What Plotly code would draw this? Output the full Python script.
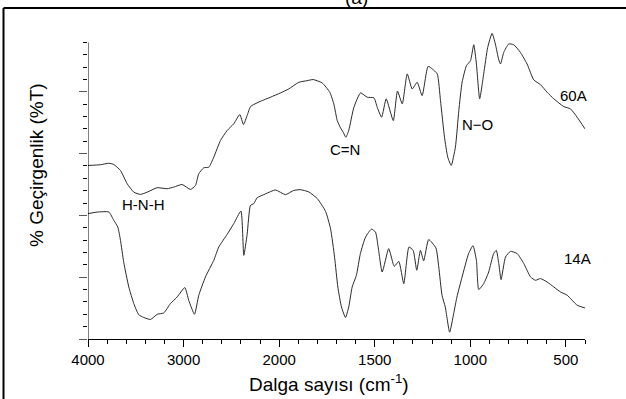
import plotly.graph_objects as go

# ---- data (wavenumber cm-1, transmittance arbitrary units) ----
wn_60A = [4000, 3869, 3782, 3730, 3660, 3590, 3521, 3451, 3381, 3276, 3172, 3103, 3015, 2928, 2876,
          2841, 2789, 2736, 2684, 2614, 2544, 2475, 2412, 2373, 2335, 2300, 2266, 2196, 2091, 1993,
          1950, 1897, 1854, 1822, 1775, 1735, 1714, 1696, 1679, 1665, 1651, 1636, 1609, 1574, 1539,
          1504, 1487, 1464, 1440, 1403, 1381, 1356, 1330, 1304, 1278, 1252, 1221, 1199, 1173, 1156,
          1135, 1118, 1100, 1078, 1060, 1043, 1020, 999, 982, 968, 951, 930, 909, 886, 869,
          851, 842, 825, 799, 773, 738, 703, 668, 633, 598, 563, 511, 476, 441, 400]
t_60A = [14.04, 14.10, 14.22, 14.12, 13.63, 12.56, 11.88, 11.70, 11.88, 12.24, 12.16, 12.29, 12.50, 12.10, 12.42,
         13.37, 13.85, 13.90, 14.71, 16.06, 16.87, 17.41, 18.16, 17.35, 18.08, 18.80, 18.97, 19.23, 19.56, 19.91,
         20.23, 20.77, 20.90, 20.99, 20.72, 19.96, 19.02, 17.67, 17.08, 16.73, 16.32, 16.87, 18.75, 19.91, 19.56,
         19.51, 18.75, 17.94, 19.43, 17.67, 20.06, 19.02, 21.45, 20.23, 20.77, 19.69, 22.06, 21.85, 21.45, 19.29,
         16.32, 14.71, 14.04, 15.52, 18.49, 20.77, 22.12, 22.52, 23.81, 22.25, 19.43, 21.45, 23.59, 24.73, 23.87,
         22.58, 22.25, 23.19, 23.87, 23.81, 23.19, 22.25, 20.96, 20.58, 19.96, 19.43, 18.80, 18.62, 17.94, 17.00]

wn_14A = [4000, 3904, 3782, 3730, 3688, 3660, 3626, 3573, 3521, 3469, 3416, 3346, 3276, 3207, 3137,
          3067, 2987, 2946, 2886, 2841, 2771, 2684, 2632, 2544, 2475, 2400, 2370, 2335, 2300, 2266,
          2230, 2143, 2039, 1967, 1924, 1889, 1845, 1800, 1757, 1731, 1710, 1693, 1674, 1653, 1636,
          1618, 1596, 1575, 1548, 1517, 1496, 1482, 1461, 1427, 1403, 1397, 1374, 1348, 1321, 1299,
          1280, 1261, 1244, 1218, 1180, 1165, 1148, 1131, 1108, 1087, 1070, 1043, 1009, 986, 968,
          956, 930, 904, 878, 864, 851, 839, 816, 790, 755, 720, 685, 659, 633, 598,
          563, 528, 493, 441, 400]
t_14A = [10.14, 10.27, 10.27, 9.60, 9.05, 7.98, 6.20, 4.21, 2.87, 1.96, 1.74, 1.58, 2.00, 2.11, 2.87,
         3.40, 4.16, 3.13, 2.00, 3.54, 5.02, 6.37, 7.44, 8.47, 9.33, 10.35, 6.77, 8.47, 10.81, 10.95,
         11.43, 11.74, 12.06, 11.68, 12.02, 12.08, 11.90, 11.35, 10.32, 8.91, 6.61, 4.21, 2.59, 1.74, 2.59,
         4.21, 5.15, 6.91, 8.25, 8.89, 8.65, 7.44, 5.42, 7.31, 6.04, 5.88, 6.28, 4.48, 7.44, 7.17,
         5.56, 7.17, 6.32, 8.04, 7.37, 5.82, 3.54, 2.59, 0.55, 2.06, 3.40, 5.02, 6.91, 7.55, 6.37,
         4.00, 4.48, 5.42, 6.91, 7.17, 6.10, 4.81, 6.63, 7.09, 6.91, 6.10, 5.02, 4.75, 4.89, 4.61,
         4.21, 3.80, 3.54, 2.73, 2.51]

tick_values_wn = [4000, 3000, 2000, 1500, 1000, 500]
tick_labels = ["4000", "3000", "2000", "1500", "1000", "500"]


# FTIR axis with a scale change at 2000 cm-1
def to_axis(w):
    if w >= 2000:
        return (4000 - w) / 1000.0
    return 2.0 + (2000 - w) / 500.0


FONT = "Liberation Sans, Arial, sans-serif"
LINE = "#2a2a2a"

fig = go.Figure()
fig.add_trace(go.Scatter(x=[to_axis(w) for w in wn_60A], y=t_60A, mode="lines",
                         line=dict(color=LINE, width=1, shape="spline", smoothing=0.5),
                         name="60A", showlegend=False))
fig.add_trace(go.Scatter(x=[to_axis(w) for w in wn_14A], y=t_14A, mode="lines",
                         line=dict(color=LINE, width=1, shape="spline", smoothing=0.5),
                         name="14A", showlegend=False))

L, R, T, B = 88, 41, 30, 60
W, H = 626, 399
PW, PH = W - L - R, H - T - B


def px(x):
    return (x - L) / PW


def py(y):
    return (H - B - y) / PH


fig.update_layout(
    width=W, height=H,
    margin=dict(l=L, r=R, t=T, b=B, pad=0),
    paper_bgcolor="white", plot_bgcolor="white",
    font=dict(family=FONT, color="black", size=15),
    showlegend=False,
)

fig.update_xaxes(
    range=[0, 5.2], showgrid=False, zeroline=False,
    showline=True, linecolor="black", linewidth=1,
    tickmode="array", tickvals=[to_axis(w) for w in tick_values_wn], ticktext=tick_labels,
    ticks="outside", ticklen=7, tickcolor="black", tickwidth=1,
    tickfont=dict(size=15, family=FONT),
    minor=dict(ticks="outside", ticklen=4, tickcolor="black", tickwidth=1, dtick=0.2, tick0=0),
)
fig.update_yaxes(
    range=[0, 25], showgrid=False, zeroline=False, showline=False,
    tickmode="array", tickvals=[0, 5, 10, 15, 20], showticklabels=False,
    ticks="outside", ticklen=8, tickcolor="#555", tickwidth=1,
    minor=dict(ticks="outside", ticklen=4, tickcolor="black", tickwidth=1,
               tickmode="array", tickvals=list(range(0, 25))),
)

shapes = [
    dict(type="line", xref="x", yref="y", x0=0, x1=0, y0=0, y1=24,
         line=dict(color="black", width=1)),
    dict(type="line", xref="paper", yref="paper", x0=px(3.5), x1=px(3.5), y0=py(8), y1=py(420),
         line=dict(color="black", width=2)),
    dict(type="line", xref="paper", yref="paper", x0=px(3.5), x1=px(640), y0=py(8), y1=py(8),
         line=dict(color="black", width=2)),
]
fig.update_layout(shapes=shapes)

ann = [
    ("H-N-H", 143.7, 204.2, 15, 0),
    ("C=N", 344.7, 149.2, 15, 0),
    ("N\u2212O", 477.7, 124.2, 15, 0),
    ("60A", 573.3, 95.5, 15, 0),
    ("14A", 577.8, 258, 15, 0),
    ("% Geçirgenlik (%T)", 36, 165, 19, -90),
    ("Dalga sayısı (cm<sup>-1</sup>)", 328.7, 383, 19, 0),
    ("(a)", 356.7, -3, 19, 0),
]
for text, x, y, size, ang in ann:
    fig.add_annotation(text=text, xref="paper", yref="paper", x=px(x), y=py(y),
                       xanchor="center", yanchor="middle", showarrow=False,
                       textangle=ang, font=dict(size=size, family=FONT, color="black"))

fig.write_html("out.html")
